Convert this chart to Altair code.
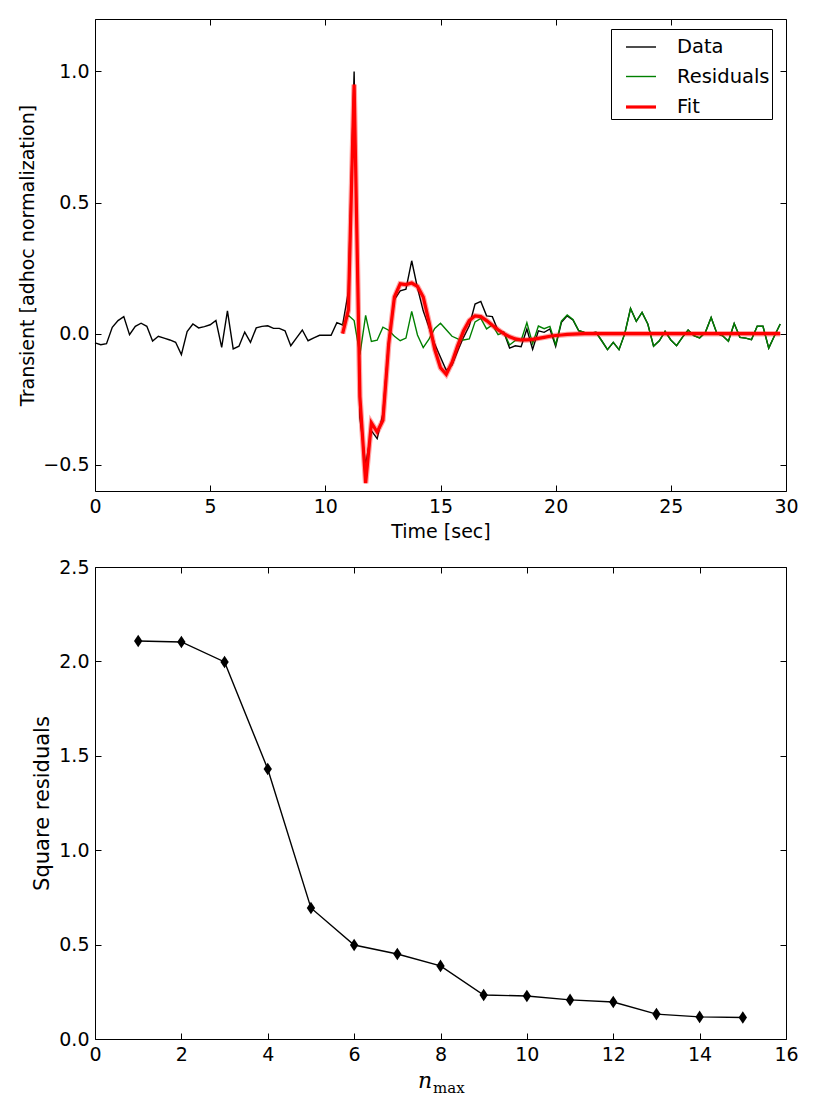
import altair as alt
import pandas as pd

# ---------------- data ----------------
time_step = 0.25
data_vals = [
    -0.035, -0.042, -0.038, 0.024, 0.050, 0.065, -0.004, 0.028, 0.040, 0.028,
    -0.028, -0.010, -0.017, -0.024, -0.033, -0.080, 0.008, 0.037, 0.022, 0.027,
    0.034, 0.050, -0.052, 0.087, -0.058, -0.048, 0.006, -0.033, 0.022, 0.028,
    0.030, 0.020, 0.020, 0.011, -0.046, -0.016, 0.014, -0.027, -0.016, -0.006,
    -0.006, -0.006, 0.042, 0.033, 0.160, 1.000, -0.320, -0.500, -0.370, -0.400,
    -0.305, -0.027, 0.130, 0.163, 0.170, 0.278, 0.175, 0.087, 0.024, -0.040,
    -0.090, -0.140, -0.120, -0.065, -0.014, 0.030, 0.113, 0.123, 0.068, 0.065,
    0.011, 0.005, -0.055, -0.046, -0.050, 0.018, -0.060, 0.011, 0.005, 0.018,
    -0.049, 0.043, 0.068, 0.052, 0.011, 0.005, 0.002, 0.005, -0.027, -0.061,
    -0.033, -0.061, 0.000, 0.096, 0.047, 0.081, 0.037, -0.048, -0.027, 0.009,
    -0.024, -0.046, -0.014, 0.014, -0.008, -0.016, 0.005, 0.062, 0.001, -0.008,
    -0.029, 0.039, -0.014, -0.017, -0.023, 0.028, 0.028, -0.055, -0.008, 0.037,
]
fit_start_index = 43  # t = 10.75 s
fit_vals = [
    0.000, 0.090, 0.950, -0.240, -0.570, -0.340, -0.375, -0.330, -0.040, 0.140,
    0.190, 0.187, 0.193, 0.180, 0.140, 0.045, -0.060, -0.130, -0.155, -0.110,
    -0.045, 0.010, 0.050, 0.068, 0.065, 0.050, 0.032, 0.015, 0.000, -0.012,
    -0.020, -0.024, -0.024, -0.022, -0.018, -0.014, -0.010, -0.007, -0.005, -0.003,
    -0.002, -0.001,
] + [0.0] * 35

n_max = list(range(1, 16))
sq_resid = [2.108, 2.103, 1.997, 1.430, 0.694, 0.498, 0.450, 0.387,
            0.233, 0.228, 0.207, 0.196, 0.132, 0.117, 0.114]

x_ticks_top = [0, 5, 10, 15, 20, 25, 30]
y_ticks_top = [-0.5, 0.0, 0.5, 1.0]
x_ticks_bot = [0, 2, 4, 6, 8, 10, 12, 14, 16]
y_ticks_bot = [0.0, 0.5, 1.0, 1.5, 2.0, 2.5]

series_names = ["Data", "Residuals", "Fit"]
series_colors = ["#000000", "#008000", "#ff0000"]
series_widths = [1.4, 1.4, 3.2]

# ---------------- tables ----------------
times = [i * time_step for i in range(len(data_vals))]
fit_times = times[fit_start_index:]
resid_vals = [d - f for d, f in zip(data_vals[fit_start_index:], fit_vals)]

rows = []
for t, v in zip(times, data_vals):
    rows.append({"t": t, "v": v, "series": "Data"})
for t, v in zip(fit_times, resid_vals):
    rows.append({"t": t, "v": v, "series": "Residuals"})
for t, v in zip(fit_times, fit_vals):
    rows.append({"t": t, "v": v, "series": "Fit"})
df = pd.DataFrame(rows)
df_fit = df[df.series == "Fit"]

df_bot = pd.DataFrame({"n": n_max, "r": sq_resid})

FONT = "DejaVu Sans"
W, H = 691, 472
TICK = 6

def main_axis(title, values, fmt, fs, tfs, lp, tp):
    return alt.Axis(title=title, values=values, format=fmt, tickSize=TICK, offset=-TICK,
                    labelPadding=lp, titlePadding=tp, labelFontSize=fs, titleFontSize=tfs,
                    labelFlush=False, labelOverlap=False)

def mirror_axis(orient, values):
    return alt.Axis(title=None, orient=orient, values=values, labels=False,
                    tickSize=TICK, offset=-TICK)

xs_top = alt.Scale(domain=[0, 30], nice=False, zero=False)
ys_top = alt.Scale(domain=[-0.6, 1.2], nice=False, zero=False)

legend = alt.Legend(title=None, orient="none", legendX=516, legendY=10,
                    strokeColor="black", fillColor="white", padding=2,
                    labelFontSize=19.5, labelFont=FONT, labelColor="black",
                    symbolType="stroke", symbolSize=900, symbolOffset=11,
                    labelOffset=19, rowPadding=3.5, cornerRadius=0,
                    labelExpr="datum.label + '\u00a0\u00a0'")
color_enc = alt.Color("series:N",
                      scale=alt.Scale(type="ordinal", domain=series_names, range=series_colors),
                      legend=legend)
width_enc = alt.StrokeWidth("series:N",
                            scale=alt.Scale(type="ordinal", domain=series_names, range=series_widths),
                            legend=legend)

data_layer = alt.Chart(df[df.series == "Data"]).mark_line().encode(
    x=alt.X("t:Q", scale=xs_top,
            axis=main_axis("Time [sec]", x_ticks_top, "d", 19, 19, 6, 6)),
    y=alt.Y("v:Q", scale=ys_top,
            axis=main_axis("Transient [adhoc normalization]", y_ticks_top, ".1f", 19, 19, 6, 5)),
    color=color_enc, strokeWidth=width_enc,
)
resid_layer = alt.Chart(df[df.series == "Residuals"]).mark_line().encode(
    x=alt.X("t:Q", scale=xs_top, axis=None),
    y=alt.Y("v:Q", scale=ys_top, axis=None),
    color=color_enc, strokeWidth=width_enc,
)
band_layer = alt.Chart(df_fit).mark_line(color="#ff0000", strokeWidth=5.5, opacity=0.35).encode(
    x=alt.X("t:Q", scale=xs_top, axis=mirror_axis("top", x_ticks_top)),
    y=alt.Y("v:Q", scale=ys_top, axis=mirror_axis("right", y_ticks_top)),
)
fit_layer = alt.Chart(df_fit).mark_line().encode(
    x=alt.X("t:Q", scale=xs_top, axis=None),
    y=alt.Y("v:Q", scale=ys_top, axis=None),
    color=color_enc, strokeWidth=width_enc,
)
top = alt.layer(data_layer, resid_layer, band_layer, fit_layer).resolve_axis(
    x="independent", y="independent").properties(width=W, height=H)

# ---------------- bottom chart ----------------
xs_bot = alt.Scale(domain=[0, 16], nice=False, zero=False)
ys_bot = alt.Scale(domain=[0, 2.5], nice=False, zero=False)
thin_diamond = "M0,-1L0.66,0L0,1L-0.66,0Z"

line_bot = alt.Chart(df_bot).mark_line(color="black", strokeWidth=1.4).encode(
    x=alt.X("n:Q", scale=xs_bot, axis=main_axis("", x_ticks_bot, "d", 19, 19, 6, 6)),
    y=alt.Y("r:Q", scale=ys_bot,
            axis=main_axis("Square residuals", y_ticks_bot, ".1f", 19, 21, 6, 6)),
)
pts_bot = alt.Chart(df_bot).mark_point(shape=thin_diamond, filled=True, size=160,
                                       color="black", opacity=1).encode(
    x=alt.X("n:Q", scale=xs_bot, axis=mirror_axis("top", x_ticks_bot)),
    y=alt.Y("r:Q", scale=ys_bot, axis=mirror_axis("right", y_ticks_bot)),
)
one = pd.DataFrame({"k": [0]})
n_text = alt.Chart(one).mark_text(text="n", font="DejaVu Serif", fontStyle="italic",
                                  fontSize=22, align="left", baseline="alphabetic",
                                  color="black").encode(x=alt.value(323), y=alt.value(521))
max_text = alt.Chart(one).mark_text(text="max", font="DejaVu Serif", fontSize=15,
                                    align="left", baseline="alphabetic",
                                    color="black").encode(x=alt.value(338), y=alt.value(526))
bottom = alt.layer(line_bot, pts_bot, n_text, max_text).resolve_axis(
    x="independent", y="independent").properties(width=W, height=H)

chart = alt.vconcat(top, bottom, spacing=15).properties(
    padding={"left": 18, "top": 18, "right": 5, "bottom": 5}
).configure(font=FONT).configure_view(stroke="black", strokeWidth=1).configure_axis(
    domain=False, grid=False, labelColor="black", titleColor="black", tickColor="black",
    titleFontWeight="normal", labelFont=FONT, titleFont=FONT, tickWidth=1
)

chart.save("out.html", embed_options={"renderer": "svg", "actions": False})
